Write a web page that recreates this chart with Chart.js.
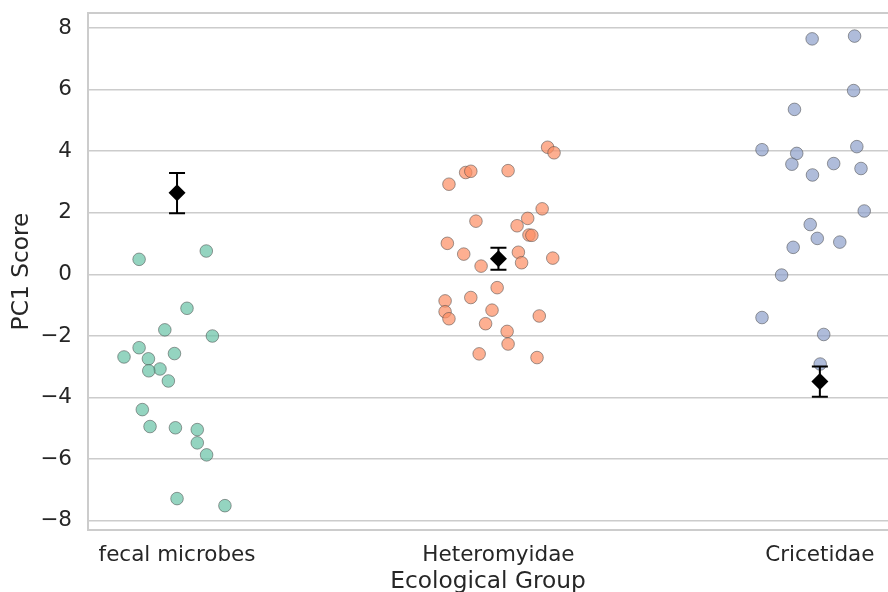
<!DOCTYPE html>
<html>
<head>
<meta charset="utf-8">
<script src="https://cdn.jsdelivr.net/npm/chart.js@4/dist/chart.umd.min.js"></script>
<style>
  html, body { margin: 0; padding: 0; background: #ffffff; }
  #wrap { width: 888px; height: 592px; position: relative; }
</style>
</head>
<body>
<div id="wrap"><canvas id="c"></canvas></div>
<script>
// ---- data ----
const categories = ["fecal microbes", "Heteromyidae", "Cricetidae"];
const yTickValues = [-8, -6, -4, -2, 0, 2, 4, 6, 8];

const fecalValues = [0.49, 0.76, -1.10, -1.80, -2.00, -2.38, -2.68, -2.74, -2.57, -3.07,
                     -3.13, -3.46, -4.39, -4.94, -4.98, -5.04, -5.47, -5.86, -7.28, -7.51];
const fecalJitter = [-0.118, 0.091, 0.031, -0.038, 0.110, -0.118, -0.165, -0.089, -0.008, -0.053,
                     -0.088, -0.027, -0.108, -0.084, -0.005, 0.063, 0.063, 0.092, 0.000, 0.149];

const heteroValues = [4.13, 3.95, 3.31, 3.35, 3.37, 2.93, 2.13, 1.73, 1.82, 1.58,
                      1.28, 1.27, 1.01, 0.66, 0.72, 0.38, 0.53, 0.27, -0.43, -0.75,
                      -0.86, -1.21, -1.44, -1.16, -1.35, -1.60, -1.85, -2.26, -2.58, -2.70];
const heteroJitter = [0.153, 0.173, -0.102, -0.086, 0.030, -0.154, 0.136, -0.070, 0.091, 0.058,
                      0.095, 0.104, -0.159, -0.108, 0.062, 0.072, 0.169, -0.054, -0.004, -0.086,
                      -0.166, -0.166, -0.154, -0.020, 0.127, -0.040, 0.027, 0.030, -0.060, 0.120];

const cricetValues = [7.65, 7.74, 5.97, 5.36, 4.05, 4.15, 3.93, 3.58, 3.60, 3.44,
                      3.23, 2.06, 1.62, 1.17, 1.05, 0.88, -0.02, -1.40, -1.95, -2.91];
const cricetJitter = [-0.024, 0.108, 0.105, -0.079, -0.180, 0.115, -0.072, -0.087, 0.043, 0.128,
                      -0.023, 0.138, -0.030, -0.008, 0.062, -0.083, -0.119, -0.180, 0.012, 0.001];

const groupMeans = [2.65, 0.51, -3.48];
const groupLower = [1.99, 0.15, -3.97];
const groupUpper = [3.29, 0.87, -2.99];

// ---- helpers ----
const TEXT = '#262626';
const GRID = '#cccccc';
function pts(vals, jit, gi) {
  return vals.map((v, i) => ({ x: gi + jit[i], y: v }));
}

const errorBarPlugin = {
  id: 'errorBars',
  afterDatasetsDraw(chart) {
    const { ctx, scales: { x, y } } = chart;
    ctx.save();
    ctx.strokeStyle = '#000000';
    ctx.lineWidth = 2;
    groupMeans.forEach((m, i) => {
      const px = x.getPixelForValue(i);
      const yl = y.getPixelForValue(groupLower[i]);
      const yu = y.getPixelForValue(groupUpper[i]);
      ctx.beginPath();
      ctx.moveTo(px, yl); ctx.lineTo(px, yu);
      ctx.moveTo(px - 8, yl); ctx.lineTo(px + 8, yl);
      ctx.moveTo(px - 8, yu); ctx.lineTo(px + 8, yu);
      ctx.stroke();
    });
    groupMeans.forEach((m, i) => {
      const px = x.getPixelForValue(i);
      const py = y.getPixelForValue(m);
      ctx.fillStyle = '#000000';
      ctx.beginPath();
      ctx.moveTo(px, py - 8.5);
      ctx.lineTo(px + 8.5, py);
      ctx.lineTo(px, py + 8.5);
      ctx.lineTo(px - 8.5, py);
      ctx.closePath();
      ctx.fill();
    });
    ctx.restore();
  }
};

const framePlugin = {
  id: 'frame',
  beforeDatasetsDraw(chart) {
    const { ctx, chartArea: a } = chart;
    ctx.save();
    ctx.strokeStyle = GRID;
    ctx.lineWidth = 2;
    ctx.beginPath();
    ctx.moveTo(a.right + 2, a.top); ctx.lineTo(a.left, a.top);
    ctx.lineTo(a.left, a.bottom); ctx.lineTo(a.right + 2, a.bottom);
    ctx.stroke();
    ctx.restore();
  }
};

const pointStyle = (rgb) => ({
  backgroundColor: `rgba(${rgb},0.7)`,
  borderColor: 'rgba(70,70,70,0.75)',
  borderWidth: 0.7,
  pointRadius: 6.3,
  pointHoverRadius: 6.3
});

new Chart(document.getElementById('c'), {
  type: 'scatter',
  data: {
    datasets: [
      Object.assign({ label: categories[0], data: pts(fecalValues, fecalJitter, 0) }, pointStyle('102,194,165')),
      Object.assign({ label: categories[1], data: pts(heteroValues, heteroJitter, 1) }, pointStyle('252,141,98')),
      Object.assign({ label: categories[2], data: pts(cricetValues, cricetJitter, 2) }, pointStyle('141,160,203'))
    ]
  },
  options: {
    responsive: true,
    maintainAspectRatio: false,
    animation: false,
    layout: { autoPadding: false, padding: { top: 13, left: 0, right: 0, bottom: 0 } },
    plugins: { legend: { display: false }, tooltip: { enabled: false } },
    scales: {
      x: {
        type: 'linear',
        min: -0.277,
        max: 2.212,
        afterBuildTicks: (s) => { s.ticks = categories.map((c, i) => ({ value: i })); },
        afterFit: (s) => { s.height = 62; s.paddingLeft = 0; s.paddingRight = 0; },
        ticks: {
          autoSkip: false,
          maxRotation: 0,
          padding: 13,
          color: TEXT,
          font: { family: 'DejaVu Sans', size: 21.5 },
          callback: (v) => categories[Math.round(v)]
        },
        grid: { display: false, drawTicks: false },
        border: { display: false },
        title: {
          display: true,
          text: 'Ecological Group',
          color: TEXT,
          font: { family: 'DejaVu Sans', size: 23.3 },
          padding: { top: 0, bottom: -4 }
        }
      },
      y: {
        min: -8.30,
        max: 8.49,
        afterBuildTicks: (s) => { s.ticks = yTickValues.map(v => ({ value: v })); },
        afterFit: (s) => { s.width = 88; s.paddingTop = 0; s.paddingBottom = 0; },
        ticks: {
          padding: 16,
          color: TEXT,
          font: { family: 'DejaVu Sans', size: 21.5 },
          callback: (v) => String(v).replace('-', '\u2212')
        },
        grid: { color: GRID, lineWidth: 1.6, drawTicks: false },
        border: { display: false },
        title: {
          display: true,
          text: 'PC1 Score',
          color: TEXT,
          font: { family: 'DejaVu Sans', size: 23.3 },
          padding: { top: 8, bottom: 0 }
        }
      }
    }
  },
  plugins: [framePlugin, errorBarPlugin]
});
</script>
</body>
</html>
